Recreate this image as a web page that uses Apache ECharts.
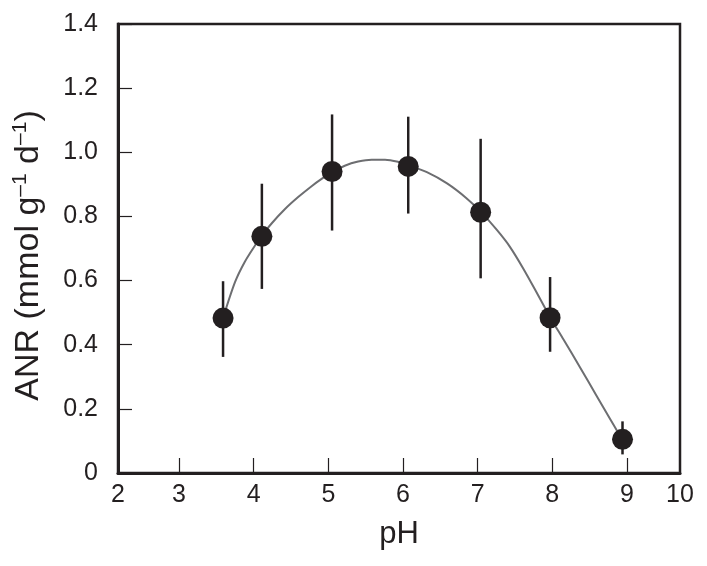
<!DOCTYPE html>
<html>
<head>
<meta charset="utf-8">
<script src="https://cdn.jsdelivr.net/npm/echarts@6/dist/echarts.min.js"></script>
<style>
html,body{margin:0;padding:0;background:#fff;}
#chart{width:707px;height:566px;}
</style>
</head>
<body>
<div id="chart"></div>
<script>
// Measured data (pH vs ANR, mean with error-bar limits)
var phValues = [3.59, 4.11, 5.05, 6.07, 7.04, 7.97, 8.94];
var anrMean  = [0.483, 0.738, 0.940, 0.956, 0.813, 0.484, 0.105];
var errLow   = [0.362, 0.574, 0.756, 0.809, 0.607, 0.378, 0.058];
var errHigh  = [0.598, 0.902, 1.118, 1.111, 1.042, 0.611, 0.161];

// Fitted curve
var fitPh  = [3.59, 3.75, 3.88, 4.02, 4.11, 4.24, 4.42, 4.60, 4.78, 4.91, 5.05, 5.22, 5.40, 5.58, 5.76, 5.94, 6.07, 6.32, 6.59, 6.85, 7.04, 7.26, 7.43, 7.61, 7.79, 7.97, 8.15, 8.37, 8.59, 8.77, 8.88];
var fitAnr = [0.483, 0.595, 0.658, 0.710, 0.740, 0.778, 0.823, 0.861, 0.895, 0.917, 0.938, 0.958, 0.971, 0.977, 0.977, 0.970, 0.960, 0.938, 0.903, 0.857, 0.815, 0.757, 0.706, 0.638, 0.563, 0.486, 0.416, 0.330, 0.242, 0.170, 0.126];

// Axis tick labels
var xTickValues = [3, 4, 5, 6, 7, 8, 9];
var xLabelTexts = ['2', '3', '4', '5', '6', '7', '8', '9', '10'];
var yTickValues = [0, 0.2, 0.4, 0.6, 0.8, 1.0, 1.2, 1.4];

var xMin = 2.183, xMax = 9.71;
var xLabelValues = [xMin].concat(xTickValues).concat([xMax]);

var ink = '#231f20';
var font = '"Liberation Sans", Arial, Helvetica, sans-serif';

var meanData = phValues.map(function (x, i) { return [x, anrMean[i]]; });
var errData = phValues.map(function (x, i) { return [x, errLow[i], errHigh[i]]; });
var fitData = fitPh.map(function (x, i) { return [x, fitAnr[i]]; });

var chart = echarts.init(document.getElementById('chart'), null, {renderer: 'canvas'});
chart.setOption({
  animation: false,
  backgroundColor: '#ffffff',
  grid: {
    left: 118, right: 27, top: 24, bottom: 93,
    show: true, borderColor: ink, borderWidth: 2.5, backgroundColor: 'transparent'
  },
  xAxis: {
    type: 'value',
    min: xMin, max: xMax,
    name: 'pH',
    nameLocation: 'middle',
    nameGap: 46,
    nameTextStyle: {fontFamily: font, fontSize: 31, color: ink},
    axisLine: {show: true, onZero: false, lineStyle: {color: ink, width: 3}},
    axisTick: {show: true, inside: true, length: 15, customValues: xTickValues, lineStyle: {color: ink, width: 1.2}},
    axisLabel: {
      customValues: xLabelValues,
      margin: 10,
      fontFamily: font, fontSize: 25, color: ink,
      formatter: function (v) {
        var idx = xLabelValues.indexOf(v);
        return idx >= 0 ? xLabelTexts[idx] : '';
      }
    },
    splitLine: {show: false}
  },
  yAxis: {
    type: 'value',
    min: 0, max: 1.4, interval: 0.2,
    name: 'ANR (mmol g{sup|–1} d{sup|–1})',
    nameLocation: 'middle',
    nameGap: 70,
    nameTextStyle: {
      fontFamily: font, fontSize: 34, color: ink, lineHeight: 38,
      padding: [0, 14, 0, 0],
      rich: {sup: {fontFamily: font, fontSize: 21, color: ink, verticalAlign: 'top', lineHeight: 22}}
    },
    axisLine: {show: true, lineStyle: {color: ink, width: 3}},
    axisTick: {show: true, inside: true, length: 14, customValues: yTickValues, lineStyle: {color: ink, width: 1.2}},
    axisLabel: {
      margin: 20,
      fontFamily: font, fontSize: 25, color: ink,
      formatter: function (v) { return v === 0 ? '0' : v.toFixed(1); }
    },
    splitLine: {show: false}
  },
  series: [
    {
      type: 'line',
      data: fitData,
      smooth: 0.3,
      showSymbol: false,
      symbol: 'none',
      lineStyle: {color: '#6d6e71', width: 2},
      z: 2
    },
    {
      type: 'custom',
      data: errData,
      renderItem: function (params, api) {
        var x = api.value(0);
        var lo = api.coord([x, api.value(1)]);
        var hi = api.coord([x, api.value(2)]);
        return {
          type: 'line',
          shape: {x1: lo[0], y1: lo[1], x2: hi[0], y2: hi[1]},
          style: {stroke: ink, lineWidth: 2.5}
        };
      },
      z: 3
    },
    {
      type: 'scatter',
      data: meanData,
      symbol: 'circle',
      symbolSize: 21,
      itemStyle: {color: ink, opacity: 1},
      z: 4
    }
  ]
});
</script>
</body>
</html>
